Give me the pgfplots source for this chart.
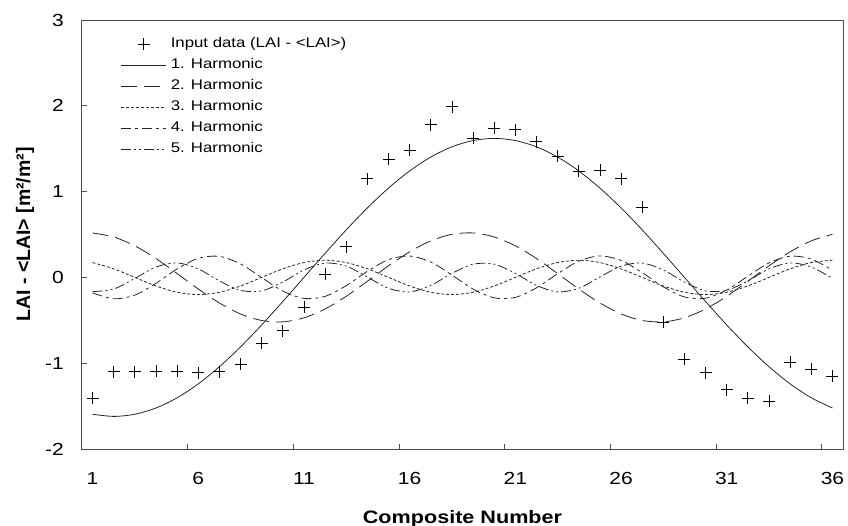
\documentclass[border=0pt]{standalone}
\usepackage{pgfplots}
\usepackage{pgfplotstable}
\pgfplotsset{compat=1.18}
\usepackage{fontspec}
\setmainfont{Liberation Sans}[FakeStretch=1.2]
\newfontfamily\ylabfont{Liberation Sans}

% legend samples: 45bp line, or a single centred mark
\pgfplotsset{
  harmonic sample/.style={legend image code/.code={\draw[##1] (0bp,0bp) -- (45bp,0bp);}},
  data sample/.style={legend image code/.code={\draw[##1] plot coordinates {(22.5bp,0bp)};}},
}

% composite number, LAI anomaly and the first five harmonics
\pgfplotstableread{
i   lai    h1     h2     h3     h4     h5
1  -1.41  -1.595  0.518  0.173 -0.180 -0.166
2  -1.10  -1.620  0.471  0.100 -0.249 -0.136
3  -1.10  -1.595  0.368  0.000 -0.206 -0.011
4  -1.09  -1.522  0.220 -0.100 -0.069  0.121
5  -1.09  -1.403  0.045 -0.173  0.099  0.169
6  -1.11  -1.241 -0.135 -0.200  0.222  0.099
7  -1.10  -1.041 -0.298 -0.173  0.245 -0.040
8  -1.01  -0.810 -0.426 -0.100  0.157 -0.151
9  -0.77  -0.554 -0.502  0.000 -0.001 -0.157
10 -0.62  -0.281 -0.518  0.100 -0.159 -0.054
11 -0.35   0.000 -0.471  0.173 -0.245  0.087
12  0.04   0.281 -0.368  0.200 -0.221  0.167
13  0.36   0.554 -0.220  0.173 -0.096  0.131
14  1.15   0.810 -0.045  0.100  0.071  0.004
15  1.38   1.041  0.135  0.000  0.207 -0.127
16  1.48   1.241  0.298 -0.100  0.249 -0.169
17  1.78   1.403  0.426 -0.173  0.179 -0.093
18  1.99   1.522  0.502 -0.200  0.028  0.047
19  1.62   1.595  0.518 -0.173 -0.136  0.154
20  1.74   1.620  0.471 -0.100 -0.238  0.154
21  1.72   1.595  0.368  0.000 -0.233  0.047
22  1.58   1.522  0.220  0.100 -0.122 -0.093
23  1.41   1.403  0.045  0.173  0.043 -0.169
24  1.24   1.241 -0.135  0.200  0.189 -0.127
25  1.25   1.041 -0.298  0.173  0.250  0.004
26  1.15   0.810 -0.426  0.100  0.198  0.131
27  0.82   0.554 -0.502  0.000  0.056  0.167
28 -0.52   0.281 -0.518 -0.100 -0.110  0.087
29 -0.95   0.000 -0.471 -0.173 -0.228 -0.054
30 -1.11  -0.281 -0.368 -0.200 -0.242 -0.157
31 -1.31  -0.554 -0.220 -0.173 -0.147 -0.151
32 -1.41  -0.810 -0.045 -0.100  0.014 -0.040
33 -1.44  -1.041  0.135  0.000  0.169  0.099
34 -0.99  -1.241  0.298  0.100  0.247  0.169
35 -1.07  -1.403  0.426  0.173  0.214  0.121
36 -1.15  -1.522  0.502  0.200  0.084 -0.011
}\datatable

\begin{document}
\begin{tikzpicture}
\begin{axis}[
  scale only axis,
  width=761bp, height=429bp,
  xmin=0.5, xmax=36.5,
  ymin=-2, ymax=3,
  axis line style={draw=black!70, line width=1bp},
  tick align=inside,
  xtick pos=bottom, ytick pos=left,
  major tick length=0pt,
  minor tick length=5bp,
  xtick={1,6,...,36},
  minor xtick={0.5,5.5,...,35.5},
  ytick={-2,-1,...,3},
  minor ytick={-2,-1,...,3},
  minor tick style={draw=black!70, line width=1bp},
  /pgf/number format/assume math mode=true,
  tick label style={font=\fontsize{17.5bp}{20bp}\selectfont},
  xticklabel style={anchor=north, inner sep=0pt, yshift=-23bp},
  yticklabel style={anchor=east, inner sep=0pt, xshift=-18bp},
  xlabel={Composite Number},
  xlabel style={at={(axis description cs:0.5,-0.1725)}, anchor=base,
    font=\fontsize{18bp}{21bp}\selectfont\bfseries},
  ylabel={LAI - <LAI> [m²/m²]},
  ylabel style={at={(axis description cs:-0.0683,0.5)}, anchor=base,
    font=\ylabfont\fontsize{19.5bp}{22bp}\selectfont\bfseries},
  harmonic sample,
  legend style={at={(rel axis cs:0.0512,0.9604)}, anchor=north west,
    draw=none, fill=none, inner sep=0pt, outer sep=0pt,
    row sep=6bp, column sep=4bp,
    font=\fontsize{14bp}{16bp}\selectfont,
    nodes={inner sep=0pt, text height=11bp, text depth=4bp}},
  legend cell align=left,
  every axis plot/.append style={line width=0.8bp},
]
\addplot[only marks, mark=+, mark size=6bp, black, data sample]
  table[x=i, y=lai] {\datatable};
\addplot[black!85, smooth, tension=0.5] table[x=i, y=h1] {\datatable};
\addplot[black!85, smooth, tension=0.5, dash pattern=on 16bp off 7bp] table[x=i, y=h2] {\datatable};
\addplot[black!85, smooth, tension=0.5, dash pattern=on 3bp off 2bp] table[x=i, y=h3] {\datatable};
\addplot[black!85, smooth, tension=0.5, dash pattern=on 10bp off 4bp on 3bp off 4bp] table[x=i, y=h4] {\datatable};
\addplot[black!85, smooth, tension=0.5, dash pattern=on 10bp off 3bp on 2bp off 3bp on 2bp off 3bp] table[x=i, y=h5] {\datatable};
\legend{Input data (LAI - <LAI>), 1. Harmonic, 2. Harmonic, 3. Harmonic, 4. Harmonic, 5. Harmonic}
\end{axis}
\pgfresetboundingbox
\path[use as bounding box] (-82bp,-77bp) rectangle (766bp,449bp);
\end{tikzpicture}
\end{document}
